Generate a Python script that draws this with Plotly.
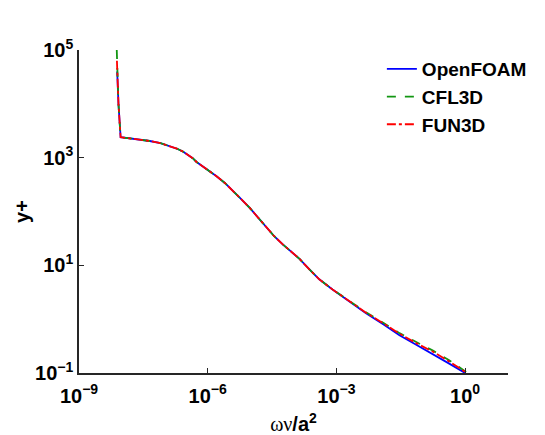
import plotly.graph_objects as go

# OpenFOAM
of_x = [7.76e-9, 8.32e-9, 9.33e-9, 2.00e-8, 4.47e-8, 7.94e-8, 1.32e-7, 2.00e-7, 2.69e-7,
        3.55e-7, 4.47e-7, 5.50e-7, 7.08e-7, 9.33e-7, 1.58e-6, 2.51e-6, 3.80e-6, 6.03e-6,
        9.55e-6, 1.48e-5, 2.34e-5, 3.55e-5, 5.62e-5, 8.91e-5, 1.38e-4, 2.51e-4, 3.98e-4,
        8.13e-4, 2.00e-3, 4.90e-3, 1.26e-2, 2.95e-2, 7.08e-2, 0.174, 0.417, 1.0]
of_y = [3.98e4, 1.0e4, 2.40e3, 2.24e3, 2.04e3, 1.86e3, 1.62e3, 1.45e3, 1.29e3,
        1.12e3, 977, 832, 724, 631, 457, 339, 240, 170,
        117, 77.6, 50.1, 34.7, 24.5, 17.8, 13.2, 7.94, 5.50,
        3.55, 2.14, 1.29, 0.794, 0.501, 0.339, 0.229, 0.151, 0.1]

# CFL3D
cfl_x = [7.59e-9, 8.32e-9, 9.33e-9, 2.00e-8, 4.47e-8, 7.94e-8, 1.32e-7, 2.00e-7, 2.69e-7,
         3.55e-7, 4.47e-7, 5.50e-7, 7.08e-7, 9.33e-7, 1.58e-6, 2.51e-6, 3.80e-6, 6.03e-6,
         9.55e-6, 1.48e-5, 2.34e-5, 3.55e-5, 5.62e-5, 8.91e-5, 1.38e-4, 2.51e-4, 3.98e-4,
         8.13e-4, 2.00e-3, 4.90e-3, 1.26e-2, 2.95e-2, 7.08e-2, 0.174, 0.417, 1.15]
cfl_y = [1.0e5, 1.0e4, 2.40e3, 2.24e3, 2.04e3, 1.86e3, 1.62e3, 1.45e3, 1.29e3,
         1.12e3, 977, 832, 724, 631, 457, 339, 240, 170,
         117, 77.6, 50.1, 34.7, 24.5, 17.8, 13.2, 7.94, 5.50,
         3.55, 2.16, 1.35, 0.851, 0.550, 0.380, 0.263, 0.174, 0.1]

# FUN3D
fun_x = [7.66e-9, 8.32e-9, 9.33e-9, 2.00e-8, 4.47e-8, 7.94e-8, 1.32e-7, 2.00e-7, 2.69e-7,
         3.55e-7, 4.47e-7, 5.50e-7, 7.08e-7, 9.33e-7, 1.58e-6, 2.51e-6, 3.80e-6, 6.03e-6,
         9.55e-6, 1.48e-5, 2.34e-5, 3.55e-5, 5.62e-5, 8.91e-5, 1.38e-4, 2.51e-4, 3.98e-4,
         8.13e-4, 2.00e-3, 4.90e-3, 1.26e-2, 2.95e-2, 7.08e-2, 0.174, 0.417, 1.1]
fun_y = [6.31e4, 1.0e4, 2.40e3, 2.24e3, 2.04e3, 1.86e3, 1.62e3, 1.45e3, 1.29e3,
         1.12e3, 977, 832, 724, 631, 457, 339, 240, 170,
         117, 77.6, 50.1, 34.7, 24.5, 17.8, 13.2, 7.94, 5.50,
         3.55, 2.15, 1.32, 0.832, 0.537, 0.363, 0.251, 0.166, 0.1]

x_ticks = [1e-9, 1e-6, 1e-3, 1e0]
x_labels = ["10<sup>−9</sup>", "10<sup>−6</sup>", "10<sup>−3</sup>", "10<sup>0</sup>"]
y_ticks = [1e-1, 1e1, 1e3, 1e5]
y_labels = ["10<sup>−1</sup>", "10<sup>1</sup>", "10<sup>3</sup>", "10<sup>5</sup>"]

FONT = "Liberation Sans, Arial, sans-serif"
AX = "#262626"

fig = go.Figure()
fig.add_trace(go.Scatter(x=of_x, y=of_y, mode="lines", name="OpenFOAM",
                         line=dict(color="#0000ff", width=1.8)))
fig.add_trace(go.Scatter(x=cfl_x, y=cfl_y, mode="lines", name="CFL3D",
                         line=dict(color="#129612", width=1.8, dash="dash")))
fig.add_trace(go.Scatter(x=fun_x, y=fun_y, mode="lines", name="FUN3D",
                         line=dict(color="#ff0000", width=1.8, dash="dashdot")))

fig.update_layout(
    width=545, height=435,
    margin=dict(l=79, r=37, t=50, b=62, autoexpand=False),
    paper_bgcolor="white", plot_bgcolor="white",
    font=dict(family=FONT, color="black"),
    showlegend=True,
    legend=dict(x=0.706, y=1.0, xanchor="left", yanchor="top",
                bgcolor="rgba(0,0,0,0)", font=dict(size=19, family=FONT, weight="bold"),
                tracegroupgap=0),
    xaxis=dict(type="log", range=[-9, 1], tickvals=x_ticks, ticktext=x_labels,
               automargin=False, ticklabelstandoff=4,
               showline=True, linecolor=AX, linewidth=1.5, ticks="inside", ticklen=5,
               tickcolor=AX, tickwidth=1, showgrid=False, zeroline=False, mirror=False,
               tickfont=dict(size=20, family=FONT, weight="bold", color="black"),
               title=dict(text="<span style='font-family:Liberation Serif;font-weight:normal'>ων</span>/a<sup>2</sup>",
                          font=dict(size=20, family=FONT, weight="bold"), standoff=12)),
    yaxis=dict(type="log", range=[-1, 5], tickvals=y_ticks, ticktext=y_labels,
               automargin=False,
               showline=True, linecolor=AX, linewidth=1.5, ticks="inside", ticklen=5,
               tickcolor=AX, tickwidth=1, showgrid=False, zeroline=False, mirror=False,
               tickfont=dict(size=20, family=FONT, weight="bold", color="black"),
               title=dict(text="y+", font=dict(size=20, family=FONT, weight="bold"), standoff=0)),
)

fig.write_html("out.html")
